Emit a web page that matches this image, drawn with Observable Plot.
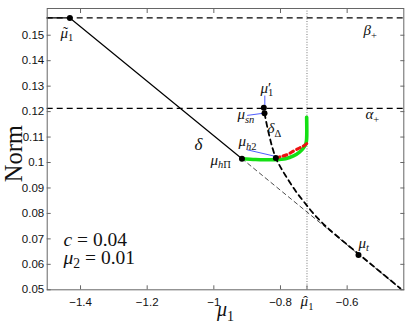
<!DOCTYPE html>
<html><head><meta charset="utf-8">
<script src="https://cdn.jsdelivr.net/npm/d3@7"></script>
<script src="https://cdn.jsdelivr.net/npm/@observablehq/plot@0.6"></script>
<style>
html,body{margin:0;padding:0;background:#fff;}
</style>
</head><body>
<div id="chart"></div>
<script>
// ---- ticks ----
const xTicks = [-1.4, -1.2, -1, -0.8, -0.6];
const yTicks = [0.05, 0.06, 0.07, 0.08, 0.09, 0.1, 0.11, 0.12, 0.13, 0.14, 0.15];
const muHat1 = -0.7205;
const muHat1Label = "$μ̂_1";

// ---- horizontal levels ----
const betaPlus = 0.1568;
const alphaPlus = 0.1213;

// ---- δ branch (solid) ----
const deltaX = [-1.5, -1.432, -0.9156];
const deltaY = [0.1568, 0.1568, 0.1015];

// ---- continuation of δ (thin dashed) ----
const contX = [-0.9156, -0.436];
const contY = [0.1015, 0.0500];

// ---- δΔ branch (thick dashed) ----
const ddX = [-0.848, -0.8405, -0.833, -0.824, -0.8141, -0.800, -0.785, -0.767, -0.749, -0.728, -0.704, -0.680, -0.650, -0.566, -0.500, -0.440];
const ddY = [0.1194, 0.1145, 0.1102, 0.1057, 0.1018, 0.0982, 0.0949, 0.0912, 0.0878, 0.0843, 0.0804, 0.0770, 0.0733, 0.0641, 0.0570, 0.0505];

// ---- green branch ----
const greenX = [-0.9156, -0.875, -0.845, -0.815, -0.785, -0.761, -0.743, -0.731, -0.7235, -0.7215, -0.7215];
const greenY = [0.1015, 0.1012, 0.1011, 0.1011, 0.1015, 0.1026, 0.1041, 0.1057, 0.1075, 0.1094, 0.1178];

// ---- red dashed branch ----
const redX = [-0.814, -0.800, -0.780, -0.761, -0.743, -0.731, -0.7205];
const redY = [0.1018, 0.1023, 0.1031, 0.1045, 0.1057, 0.1065, 0.1075];

// ---- special points ----
const ptNames = ["μ̃1", "μhΠ", "μ'1", "μsn", "μh2", "μt"];
const ptX = [-1.432, -0.9156, -0.850, -0.848, -0.814, -0.566];
const ptY = [0.1568, 0.1015, 0.1215, 0.1194, 0.1018, 0.0637];

// ---- blue leader lines ----
const leadX1 = [-0.847, -0.900, -0.900];
const leadY1 = [0.1263, 0.1185, 0.1050];
const leadX2 = [-0.847, -0.849, -0.815];
const leadY2 = [0.1215, 0.1194, 0.1024];

// ---- labels ----
const labText = ["$μ̃_1", "$μ^{′}_1", "$μ_{sn}", "$δ_Δ", "$μ_{h2}", "$μ_{hΠ}", "$β_+", "$α_+", "$μ_t"];
const labX = [-1.460, -0.860, -0.929, -0.839, -0.926, -1.010, -0.551, -0.545, -0.566];
const labY = [0.1491, 0.1275, 0.1169, 0.1114, 0.1063, 0.0992, 0.1499, 0.1169, 0.0666];
const deltaLabel = "$δ";
const deltaLabX = -1.046, deltaLabY = 0.1051;
const paramText = ["$c = 0.04", "$μ_2 = 0.01"];
const paramX = [-1.451, -1.451];
const paramY = [0.0674, 0.0603];
const xLabel = "$μ_1";
const yLabel = "Norm";

const fmt = d => String(+d.toFixed(2)).replace("-", "−");
const idx = a => a.map((_, i) => i);

const chart = Plot.plot({
  width: 407, height: 323,
  marginLeft: 46.7, marginRight: 3.7, marginTop: 8, marginBottom: 33.7,
  x: {domain: [-1.5, -0.43]},
  y: {domain: [0.05, 0.1605]},
  style: {fontFamily: "Liberation Sans", fontSize: "11.5px", color: "#111", background: "white", overflow: "visible"},
  marks: [
    Plot.ruleX([muHat1], {stroke: "#777", strokeWidth: 1, strokeDasharray: "1,1.6"}),
    Plot.ruleY([betaPlus, alphaPlus], {stroke: "#000", strokeWidth: 1.3, strokeDasharray: "6,4"}),
    Plot.line(idx(contX), {x: i => contX[i], y: i => contY[i], stroke: "#000", strokeWidth: 0.7, strokeDasharray: "4,3.5"}),
    Plot.line(idx(greenX), {x: i => greenX[i], y: i => greenY[i], stroke: "#14e014", strokeWidth: 3.6, curve: "catmull-rom"}),
    Plot.line(idx(redX), {x: i => redX[i], y: i => redY[i], stroke: "#ee1111", strokeWidth: 3, strokeDasharray: "4,3.5", curve: "catmull-rom"}),
    Plot.line(idx(ddX), {x: i => ddX[i], y: i => ddY[i], stroke: "#000", strokeWidth: 1.8, strokeDasharray: "5,4", curve: "catmull-rom"}),
    Plot.line(idx(deltaX), {x: i => deltaX[i], y: i => deltaY[i], stroke: "#000", strokeWidth: 1.2}),
    Plot.link(idx(leadX1), {x1: i => leadX1[i], y1: i => leadY1[i], x2: i => leadX2[i], y2: i => leadY2[i], stroke: "#2233ff", strokeWidth: 0.8}),
    Plot.dot(idx(ptX), {x: i => ptX[i], y: i => ptY[i], r: 3, fill: "#000", stroke: "none", title: i => ptNames[i]}),
    Plot.text(idx(labText), {x: i => labX[i], y: i => labY[i], text: i => labText[i], textAnchor: "start", lineAnchor: "bottom", fontFamily: "Liberation Serif", fontSize: 15, fill: "#111"}),
    Plot.text([deltaLabel], {x: deltaLabX, y: deltaLabY, textAnchor: "middle", lineAnchor: "bottom", fontFamily: "Liberation Serif", fontSize: 17, fill: "#111"}),
    Plot.text(idx(paramText), {x: i => paramX[i], y: i => paramY[i], text: i => paramText[i], textAnchor: "start", lineAnchor: "bottom", fontFamily: "Liberation Serif", fontSize: 19.5, fill: "#111"}),
    Plot.text([xLabel], {frameAnchor: "bottom", dx: 0, dy: 26.5, lineAnchor: "bottom", textAnchor: "middle", fontFamily: "Liberation Serif", fontSize: 20, fill: "#111"}),
    Plot.text([yLabel], {frameAnchor: "left", dx: -33, dy: 4.5, rotate: -90, textAnchor: "middle", lineAnchor: "middle", fontFamily: "Liberation Serif", fontSize: 24.5, fill: "#111"}),
    Plot.frame({stroke: "#666", strokeWidth: 1}),
    Plot.axisX(xTicks, {anchor: "bottom", tickSize: -4, tickPadding: 12, tickFormat: fmt, stroke: "#666", label: null}),
    Plot.axisX([muHat1], {anchor: "bottom", tickSize: -4, tickPadding: 10, tickFormat: () => muHat1Label, fontFamily: "Liberation Serif", fontSize: 15, stroke: "#666", label: null}),
    Plot.axisX(xTicks, {anchor: "top", tickSize: -4, fill: "none", tickFormat: null, stroke: "#666", label: null}),
    Plot.axisY(yTicks, {anchor: "left", tickSize: -4, tickPadding: 7, tickFormat: fmt, stroke: "#666", label: null}),
    Plot.axisY(yTicks, {anchor: "right", tickSize: -4, fill: "none", tickFormat: null, stroke: "#666", label: null})
  ]
});
document.getElementById("chart").appendChild(chart);

// ---- small math typesetter: italic letters, accents, sub/superscripts as tspans ----
const NS = "http://www.w3.org/2000/svg";
const ACC = {"\u0303": "˜", "\u0302": "ˆ"};
function typeset(el) {
  let s = el.textContent;
  if (!s.startsWith("$")) return;
  s = s.slice(1);
  const fs = parseFloat(el.getAttribute("font-size") || getComputedStyle(el).fontSize) || 15;
  el.textContent = "";
  const groups = [];
  let i = 0;
  while (i < s.length) {
    const c = s[i];
    if (c === "_" || c === "^") {
      let j = i + 1, content;
      if (s[j] === "{") { const k = s.indexOf("}", j); content = s.slice(j + 1, k); i = k + 1; }
      else { const cp = s.codePointAt(j); content = String.fromCodePoint(cp); i = j + content.length; }
      groups.push({lvl: c === "_" ? -1 : 1, text: content});
    } else {
      let j = i; while (j < s.length && s[j] !== "_" && s[j] !== "^") j++;
      groups.push({lvl: 0, text: s.slice(i, j)}); i = j;
    }
  }
  let cur = 0, prevW = 0, pendDx = 0, pendDy = 0;
  groups.forEach((g, gi) => {
    const isPrime = g.lvl > 0 && g.text === "′";
    const size = (g.lvl === 0 || isPrime) ? fs : fs * 0.7;
    const target = g.lvl === 0 || isPrime ? 0 : g.lvl < 0 ? fs * 0.22 : -fs * 0.42;
    const pieces = [];
    const chars = Array.from(g.text);
    for (let k = 0; k < chars.length; k++) {
      const ch = chars[k];
      const nx = chars[k + 1];
      const it = /[a-zα-ω]/.test(ch);
      if (nx && ACC[nx]) { pieces.push({t: ch, it, acc: ACC[nx]}); k++; continue; }
      const last = pieces[pieces.length - 1];
      if (last && !last.acc && last.it === it) last.t += ch;
      else pieces.push({t: ch, it});
    }
    let w = 0;
    pieces.forEach((p, pi) => {
      const ts = document.createElementNS(NS, "tspan");
      ts.textContent = p.t;
      ts.setAttribute("font-size", size);
      ts.setAttribute("font-style", p.it ? "italic" : "normal");
      let dx = pendDx, dy = pendDy;
      pendDx = 0; pendDy = 0;
      if (pi === 0) {
        dy += target - cur;
        cur = target;
        if (g.lvl < 0 && gi > 0 && groups[gi - 1].lvl > 0) dx += -prevW;
      }
      if (dx) ts.setAttribute("dx", dx.toFixed(2));
      if (dy) ts.setAttribute("dy", dy.toFixed(2));
      el.appendChild(ts);
      let wb = 0;
      try { wb = ts.getComputedTextLength(); } catch (e) {}
      w += wb;
      if (p.acc) {
        const ta = document.createElementNS(NS, "tspan");
        ta.textContent = p.acc;
        ta.setAttribute("font-size", size);
        ta.setAttribute("font-style", "normal");
        el.appendChild(ta);
        let wa = 0;
        try { wa = ta.getComputedTextLength(); } catch (e) {}
        const skew = p.it ? size * 0.08 : 0;
        const ady = -size * 0.02;
        ta.setAttribute("dx", (-(wb + wa) / 2 + skew).toFixed(2));
        ta.setAttribute("dy", ady.toFixed(2));
        pendDx = (wb - wa) / 2 - skew;
        pendDy = -ady;
      }
    });
    if (g.lvl > 0) prevW = w;
  });
}
chart.querySelectorAll("text").forEach(typeset);
</script>
</body></html>
